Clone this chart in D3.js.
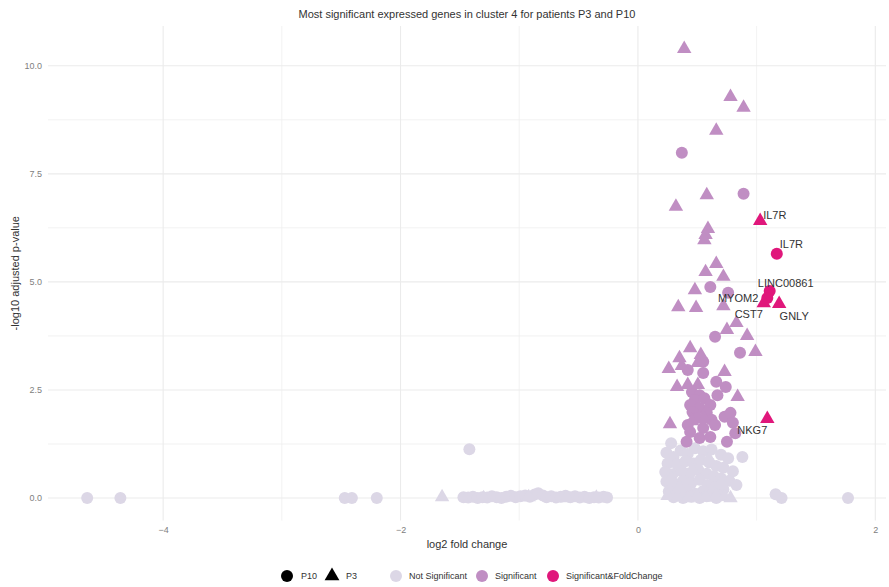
<!DOCTYPE html>
<html>
<head>
<meta charset="utf-8">
<script src="https://cdn.jsdelivr.net/npm/d3@7"></script>
<style>
  html, body { margin: 0; padding: 0; background: #ffffff; }
  svg { display: block; font-family: "Liberation Sans", Arial, sans-serif; }
</style>
</head>
<body>
<svg id="chart" width="889" height="587"></svg>
<script>
// Volcano plot: cluster 4 differential expression, patients P3 and P10.
// Each pair is [log2 fold change, -log10 adjusted p-value].

const titleText = "Most significant expressed genes in cluster 4 for patients P3 and P10";
const xTicks = [-4, -2, 0, 2];
const yTicks = [0, 2.5, 5, 7.5, 10];
const xMinor = [-3, -1, 1];
const yMinor = [1.25, 3.75, 6.25, 8.75];
const patients = ["P10", "P3"];
const statuses = ["Not Significant", "Significant", "Significant&FoldChange"];

// Not significant, P10 (circles)
const notSigP10 = [
  [-4.64, 0.0], [-4.36, 0.0], [-2.47, 0.0], [-2.41, 0.0], [-2.20, 0.0], [-1.42, 1.13],
  [-1.47, 0.02], [-1.43, 0.01], [-1.39, 0.03], [-1.35, 0.0], [-1.31, 0.02], [-1.27, 0.01],
  [-1.23, 0.04], [-1.19, 0.02], [-1.15, 0.0], [-1.11, 0.03], [-1.07, 0.05], [-1.03, 0.02],
  [-0.99, 0.04], [-0.95, 0.06], [-0.91, 0.03], [-0.87, 0.08], [-0.84, 0.11], [-0.80, 0.06],
  [-0.77, 0.02], [-0.73, 0.04], [-0.69, 0.01], [-0.65, 0.03], [-0.61, 0.05], [-0.57, 0.02],
  [-0.53, 0.04], [-0.49, 0.01], [-0.45, 0.03], [-0.41, 0.0], [-0.37, 0.02], [-0.33, 0.01],
  [-0.29, 0.03], [-0.26, 0.01],
  [0.28, 1.27], [0.24, 1.05], [0.30, 0.95], [0.36, 1.10], [0.42, 1.02], [0.48, 1.15],
  [0.55, 1.08], [0.62, 1.12], [0.70, 1.00], [0.76, 0.92], [0.25, 0.80], [0.33, 0.78],
  [0.40, 0.85], [0.47, 0.80], [0.53, 0.88], [0.60, 0.82], [0.66, 0.74], [0.72, 0.70],
  [0.80, 0.62], [0.23, 0.60], [0.29, 0.55], [0.37, 0.62], [0.44, 0.58], [0.51, 0.64],
  [0.58, 0.56], [0.64, 0.50], [0.70, 0.45], [0.77, 0.40], [0.83, 0.30], [0.24, 0.38],
  [0.31, 0.33], [0.38, 0.40], [0.45, 0.35], [0.52, 0.42], [0.59, 0.30], [0.65, 0.25],
  [0.72, 0.20], [0.26, 0.15], [0.34, 0.12], [0.41, 0.18], [0.48, 0.10], [0.55, 0.16],
  [0.62, 0.08], [0.69, 0.05], [0.30, 0.02], [0.38, 0.0], [0.45, 0.03], [0.52, 0.0],
  [0.58, 0.04], [0.66, 0.0], [0.88, 0.95], [1.16, 0.09], [1.21, 0.0], [1.77, 0.0]
];

// Not significant, P3 (triangles)
const notSigP3 = [
  [-1.65, 0.02], [-1.30, 0.0], [-0.92, 0.02], [-0.60, 0.0], [-0.35, 0.01],
  [0.25, 0.05], [0.33, 0.02], [0.42, 0.0], [0.50, 0.04], [0.57, 0.01], [0.66, 0.06],
  [0.73, 0.03], [0.78, 0.0], [0.28, 0.45], [0.46, 0.65], [0.60, 0.90], [0.35, 0.25],
  [0.70, 0.35]
];

// Significant, P10 (circles)
const sigP10 = [
  [0.37, 7.99], [0.89, 7.04], [0.61, 4.88], [0.76, 4.75], [0.65, 3.73], [0.86, 3.36],
  [0.55, 3.15], [0.42, 2.96], [0.55, 2.89], [0.74, 2.57], [0.66, 2.69], [0.67, 2.38],
  [0.455, 2.45], [0.52, 2.38], [0.48, 2.27], [0.56, 2.31], [0.44, 2.15], [0.52, 2.08],
  [0.61, 2.15], [0.46, 1.99], [0.58, 1.97], [0.50, 1.85], [0.62, 1.81], [0.42, 1.69],
  [0.55, 1.62], [0.65, 1.69], [0.44, 1.53], [0.52, 1.39], [0.61, 1.41], [0.41, 1.30],
  [0.73, 1.88], [0.78, 1.97], [0.80, 1.74], [0.82, 1.50], [0.75, 1.30]
];

// Significant, P3 (triangles)
const sigP3 = [
  [0.39, 10.39], [0.78, 9.28], [0.89, 9.03], [0.66, 8.50], [0.58, 7.01], [0.32, 6.74],
  [0.59, 6.23], [0.57, 6.09], [0.56, 5.97], [0.66, 5.42], [0.57, 5.23], [0.72, 5.12],
  [0.48, 4.81], [0.34, 4.42], [0.49, 4.40], [0.72, 4.44], [0.83, 4.05], [0.75, 3.89],
  [0.92, 3.75], [0.44, 3.47], [0.99, 3.38], [0.35, 3.24], [0.53, 3.31], [0.26, 2.99],
  [0.37, 3.06], [0.505, 3.13], [0.73, 2.92], [0.33, 2.57], [0.42, 2.62], [0.505, 2.62],
  [0.84, 2.34], [0.27, 1.71], [0.455, 1.78], [0.56, 1.83]
];

// Significant with large fold change, labelled by gene
const fcGenes = ["IL7R", "CST7", "GNLY", "NKG7", "IL7R", "LINC00861", "MYOM2"];
const fcPatient = ["P3", "P3", "P3", "P3", "P10", "P10", "P10"];
const fcValues = [
  [1.03, 6.41], [1.06, 4.51], [1.19, 4.49], [1.09, 1.83],
  [1.17, 5.65], [1.11, 4.79], [1.09, 4.63]
];

const colors = {
  "Not Significant": "#dcd7e6",
  "Significant": "#c08ec3",
  "Significant&FoldChange": "#e0177b"
};

const W = 889, H = 587;
const panel = { left: 48, right: 886, top: 26, bottom: 520.5 };

const x = d3.scaleLinear().domain([-4.97, 2.09]).range([panel.left, panel.right]);
const y = d3.scaleLinear().domain([-0.52, 10.92]).range([panel.bottom, panel.top]);

const svg = d3.select("#chart");

// Grid lines
const grid = svg.append("g");
grid.selectAll("line.vminor").data(xMinor).join("line")
  .attr("x1", d => x(d)).attr("x2", d => x(d))
  .attr("y1", panel.top).attr("y2", panel.bottom)
  .attr("stroke", "#efefef").attr("stroke-width", 0.8);
grid.selectAll("line.hminor").data(yMinor).join("line")
  .attr("y1", d => y(d)).attr("y2", d => y(d))
  .attr("x1", panel.left).attr("x2", panel.right)
  .attr("stroke", "#efefef").attr("stroke-width", 0.8);
grid.selectAll("line.vmajor").data(xTicks).join("line")
  .attr("x1", d => x(d)).attr("x2", d => x(d))
  .attr("y1", panel.top).attr("y2", panel.bottom)
  .attr("stroke", "#ebebeb").attr("stroke-width", 1.1);
grid.selectAll("line.hmajor").data(yTicks).join("line")
  .attr("y1", d => y(d)).attr("y2", d => y(d))
  .attr("x1", panel.left).attr("x2", panel.right)
  .attr("stroke", "#ebebeb").attr("stroke-width", 1.1);

// Axes (labels only, no domain line or ticks)
const xAxis = svg.append("g").attr("transform", `translate(0,${panel.bottom})`)
  .call(d3.axisBottom(x).tickValues(xTicks).tickFormat(d3.format("d")).tickSize(0).tickPadding(6));
const yAxis = svg.append("g").attr("transform", `translate(${panel.left},0)`)
  .call(d3.axisLeft(y).tickValues(yTicks).tickFormat(d3.format(".1f")).tickSize(0).tickPadding(6));
[xAxis, yAxis].forEach(a => {
  a.select(".domain").remove();
  a.selectAll("text").attr("fill", "#808080").style("font-size", "9px")
    .style("font-family", "'Liberation Sans', Arial, sans-serif");
});

// Point shapes
const triangle = d3.symbol().type(d3.symbolTriangle).size(90);
const R = 6;

function drawCircles(data, color) {
  svg.append("g").selectAll("circle").data(data).join("circle")
    .attr("cx", d => x(d[0])).attr("cy", d => y(d[1])).attr("r", R)
    .attr("fill", color);
}
function drawTriangles(data, color) {
  svg.append("g").selectAll("path").data(data).join("path")
    .attr("d", triangle)
    .attr("transform", d => `translate(${x(d[0])},${y(d[1])})`)
    .attr("fill", color);
}

drawCircles(notSigP10, colors["Not Significant"]);
drawTriangles(notSigP3, colors["Not Significant"]);
drawCircles(sigP10, colors["Significant"]);
drawTriangles(sigP3, colors["Significant"]);

const fcRows = fcGenes.map((g, i) => ({ gene: g, patient: fcPatient[i], lfc: fcValues[i][0], p: fcValues[i][1] }));
drawCircles(fcRows.filter(r => r.patient === "P10").map(r => [r.lfc, r.p]), colors["Significant&FoldChange"]);
drawTriangles(fcRows.filter(r => r.patient === "P3").map(r => [r.lfc, r.p]), colors["Significant&FoldChange"]);

// Gene label placement relative to each point (pixels, anchor)
const labelPlacement = [
  { dx: 3, dy: -6, anchor: "start" },    // IL7R (P3)
  { dx: -15, dy: 11, anchor: "middle" }, // CST7
  { dx: 15, dy: 12, anchor: "middle" },  // GNLY
  { dx: -15, dy: 11, anchor: "middle" }, // NKG7
  { dx: 3, dy: -10, anchor: "start" },   // IL7R (P10)
  { dx: 16, dy: -8, anchor: "middle" },  // LINC00861
  { dx: -9, dy: 0, anchor: "end" }       // MYOM2
];
svg.append("g").selectAll("text").data(fcRows).join("text")
  .attr("x", (d, i) => x(d.lfc) + labelPlacement[i].dx)
  .attr("y", (d, i) => y(d.p) + labelPlacement[i].dy)
  .attr("dy", "0.35em")
  .attr("text-anchor", (d, i) => labelPlacement[i].anchor)
  .attr("fill", "#333333")
  .style("font-size", "11px")
  .text(d => d.gene);

// Titles
svg.append("text").attr("x", (panel.left + panel.right) / 2).attr("y", 14).attr("dy", "0.35em")
  .attr("text-anchor", "middle").attr("fill", "#333333").style("font-size", "11px")
  .text(titleText);
svg.append("text").attr("x", (panel.left + panel.right) / 2).attr("y", 544).attr("dy", "0.35em")
  .attr("text-anchor", "middle").attr("fill", "#333333").style("font-size", "11px")
  .text("log2 fold change");
svg.append("text").attr("transform", `translate(15,${(panel.top + panel.bottom) / 2}) rotate(-90)`)
  .attr("dy", "0.35em").attr("text-anchor", "middle").attr("fill", "#333333").style("font-size", "11px")
  .text("-log10 adjusted p-value");

// Legend: shape by patient, colour by status
const legend = svg.append("g").attr("transform", "translate(0,576)");
const shapeX = [287, 332];
patients.forEach((p, i) => {
  if (p === "P10") {
    legend.append("circle").attr("cx", shapeX[i]).attr("cy", 0).attr("r", R).attr("fill", "#000");
  } else {
    legend.append("path").attr("d", d3.symbol().type(d3.symbolTriangle).size(95))
      .attr("transform", `translate(${shapeX[i]},0)`).attr("fill", "#000");
  }
  legend.append("text").attr("x", shapeX[i] + 14).attr("dy", "0.35em")
    .attr("fill", "#333333").style("font-size", "9px").text(p);
});
const colorX = [396, 482, 553];
statuses.forEach((s, i) => {
  legend.append("circle").attr("cx", colorX[i]).attr("cy", 0).attr("r", R).attr("fill", colors[s]);
  legend.append("text").attr("x", colorX[i] + 13).attr("dy", "0.35em")
    .attr("fill", "#333333").style("font-size", "9px").text(s);
});
</script>
</body>
</html>
